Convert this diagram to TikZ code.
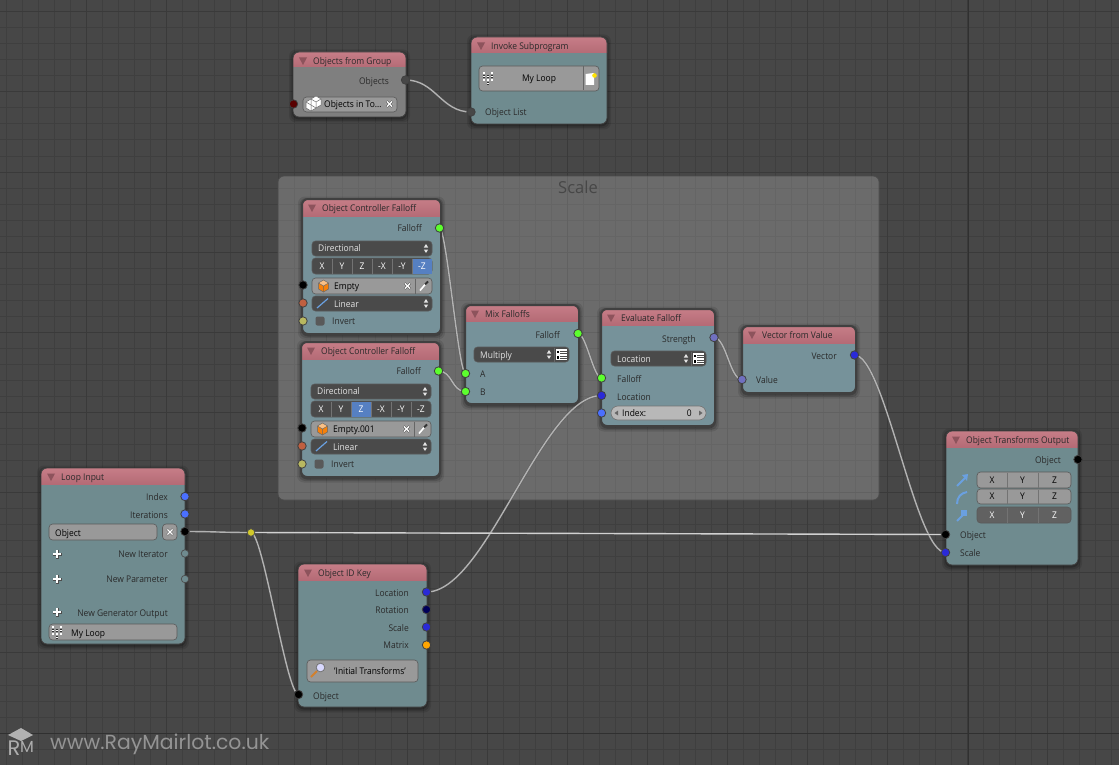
\documentclass[tikz,border=0pt]{standalone}
\usepackage{fontspec}
\setmainfont[FakeStretch=0.92]{Open Sans}
\newfontfamily\wmfont{Poppins}
\newfontfamily\frfont{Open Sans}
\usetikzlibrary{calc}
\definecolor{bgc}{HTML}{474747}
\definecolor{gridmin}{HTML}{3F3F3F}
\definecolor{gridmaj}{HTML}{3A3A3A}
\definecolor{gridaxis}{HTML}{303030}
\definecolor{hdrtop}{HTML}{C67D87}
\definecolor{hdrbot}{HTML}{B56B76}
\definecolor{bodyc}{HTML}{6F8B8F}
\definecolor{bodyb}{HTML}{76929A}
\definecolor{greyb}{HTML}{7F7F7F}
\definecolor{txt}{HTML}{2A2A2A}
\definecolor{lite}{HTML}{E2E2E2}
\definecolor{fieldc}{HTML}{999999}
\definecolor{darkf}{HTML}{4A4A4A}
\definecolor{activec}{HTML}{5680C2}
\definecolor{sgreen}{HTML}{5CFF2E}
\definecolor{sblue}{HTML}{2A2AD8}
\definecolor{slite}{HTML}{4A70FF}
\definecolor{spurp}{HTML}{7070C0}
\definecolor{srust}{HTML}{C06040}
\definecolor{solive}{HTML}{B8B860}
\definecolor{iconb}{HTML}{6AA0E0}
\pgfdeclarelayer{bg}
\pgfdeclarelayer{links}
\pgfsetlayers{bg,links,main}
\newcounter{tn}
\tikzset{
  lab/.style={inner sep=0pt,font=\fontsize{9.2}{11}\selectfont},
  sock/.style={circle,minimum size=8.4pt,inner sep=0pt,draw=#1,line width=.8pt},
  sock/.default=black!75,
  linkline/.style={draw=#1,line width=1.4pt},
  linkline/.default={black!30},
  fieldbox/.style={draw=black!65,line width=.6pt,rounded corners=3.5pt},
}
\newcommand{\labL}[4][txt]{\stepcounter{tn}\node[lab,anchor=base west,text=#1] (t\thetn) at ({#2},{#3+3.2}) {#4};}
\newcommand{\labR}[4][txt]{\stepcounter{tn}\node[lab,anchor=base east,text=#1] (t\thetn) at ({#2},{#3+3.2}) {#4};}
\newcommand{\labC}[4][txt]{\stepcounter{tn}\node[lab,anchor=base,text=#1] (t\thetn) at ({#2},{#3+3.2}) {#4};}
\newcommand{\sk}[4]{\node[sock,fill=#4] (#1) at (#2,#3) {};}
\newcommand{\fld}[5]{\path[fieldbox,fill=#5] (#1,#2) rectangle (#3,#4);}
% panel: x1 y1 x2 y2 headerbottom title body outlinewidth
\newcommand{\panel}[8]{%
  \begin{pgfonlayer}{bg}
  \foreach \e/\o in {4/.10,2.5/.14,1/.20}{
    \fill[black,opacity=\o,rounded corners=7pt] ({#1-\e},{#2-\e+1.5}) rectangle ({#3+\e},{#4+\e+1.5});}
  \end{pgfonlayer}
  \fill[#7,rounded corners=6pt] (#1,#2) rectangle (#3,#4);
  \begin{scope}
    \clip[rounded corners=6pt] (#1,#2) rectangle (#3,#4);
    \shade[top color=hdrtop,bottom color=hdrbot] (#1,#2) rectangle (#3,#5);
  \end{scope}
  \draw[black!75,line width=#8,rounded corners=6pt] (#1,#2) rectangle (#3,#4);
  \fill[black!22!hdrbot] ({#1+6},{#2+5.5}) -- ({#1+14},{#2+5.5}) -- ({#1+10},{#2+13}) -- cycle;
  \labL{#1+20}{#2+9.5}{#6}%
}
\newcommand{\updown}[2]{%
  \fill[lite] ({#1-2.2},{#2-1}) -- ({#1+2.2},{#2-1}) -- (#1,{#2-4.5}) -- cycle;
  \fill[lite] ({#1-2.2},{#2+1}) -- ({#1+2.2},{#2+1}) -- (#1,{#2+4.5}) -- cycle;}
\newcommand{\listic}[2]{%
  \fill[white] ({#1-5.5},{#2-5.5}) rectangle ({#1+5.5},{#2+5.5});
  \fill[black] ({#1-5},{#2-4}) rectangle ({#1-3},{#2-2});
  \fill[black] ({#1-5},{#2+1}) rectangle ({#1-3},{#2+4});
  \foreach \d in {-3.5,-1,1.5,4}{\draw[black!70,line width=.6pt] ({#1-1.5},{#2+\d}) -- ({#1+5},{#2+\d});}}
\newcommand{\xic}[2]{%
  \fill[black!38] (#1,#2) circle (4.6pt);
  \draw[black!65,line width=2.4pt] ({#1-2.8},{#2-2.8}) -- ({#1+2.8},{#2+2.8}) ({#1-2.8},{#2+2.8}) -- ({#1+2.8},{#2-2.8});
  \draw[white,line width=1.3pt] ({#1-2.6},{#2-2.6}) -- ({#1+2.6},{#2+2.6}) ({#1-2.6},{#2+2.6}) -- ({#1+2.6},{#2-2.6});}
\newcommand{\plusic}[2]{%
  \draw[black!70,line width=3pt] ({#1-4.5},#2) -- ({#1+4.5},#2) (#1,{#2-4.5}) -- (#1,{#2+4.5});
  \draw[white,line width=1.7pt] ({#1-4},#2) -- ({#1+4},#2) (#1,{#2-4}) -- (#1,{#2+4});}
\newcommand{\treeic}[2]{%
  \foreach \a/\b in {-5/-5,-5/-1.5,-5/2,-1/-1.5,-1/2,-1/5.5,3/-5,3/-1.5,3/2}{
    \fill[black!80] ({#1+\a-1.3},{#2+\b-1.3}) rectangle ({#1+\a+1.3},{#2+\b+1.3});
    \fill[white] ({#1+\a-.6},{#2+\b-.6}) rectangle ({#1+\a+.6},{#2+\b+.6});}}
\newcommand{\cubeic}[3]{%
  \fill[#3] ({#1-5},{#2-3}) -- (#1,{#2-6}) -- ({#1+5},{#2-3}) -- ({#1+5},{#2+3}) -- (#1,{#2+6}) -- ({#1-5},{#2+3}) -- cycle;
  \fill[white,opacity=.5] ({#1-5},{#2-3}) -- (#1,{#2-6}) -- ({#1+5},{#2-3}) -- (#1,#2) -- cycle;
  \draw[black!60,line width=.5pt] ({#1-5},{#2-3}) -- (#1,{#2-6}) -- ({#1+5},{#2-3}) -- ({#1+5},{#2+3}) -- (#1,{#2+6}) -- ({#1-5},{#2+3}) -- cycle;
  \draw[black!60,line width=.5pt] (#1,{#2+6}) -- (#1,#2) -- ({#1-5},{#2-3}) (#1,#2) -- ({#1+5},{#2-3});}
% falloff node: name, x, y (panel origin), active index, object name
\newcommand{\ocfalloff}[5]{%
  \begin{scope}[shift={(#2,#3)}]
  \panel{0}{0}{139}{135}{17}{Object Controller Falloff}{bodyb}{2pt}
  \labR{120}{29.5}{Falloff}
  \sk{#1f}{137.5}{29}{sgreen}
  \fld{10}{42}{130}{57}{darkf}
  \labL[lite]{16}{49.5}{Directional}
  \updown{124}{49.5}
  \fld{10}{59}{130}{75}{darkf}
  \foreach \n/\t in {0/X,1/Y,2/Z,3/-X,4/-Y,5/-Z}{
    \ifnum\n=#4\relax
      \fill[activec] ({10.5+20*\n},59.5) rectangle ({10+20*(\n+1)-.5},74.5);
    \fi
    \ifnum\n>0 \draw[black!55,line width=.5pt] ({10+20*\n},59.5) -- ({10+20*\n},74.5);\fi
    \labC[white]{20+20*\n}{67}{\t}
  }
  \fld{10}{79}{130}{95}{fieldc}
  \draw[black!60,line width=.5pt] (113.5,79.5) -- (113.5,94.5);
  \cubeic{21.5}{87}{orange!85!brown}
  \labL[black]{32}{87.5}{#5}
  \xic{105.5}{87}
  \draw[white,line width=1.6pt] (118,91.5) -- (124,84.5);
  \draw[black!80,line width=1.8pt] (123,85.5) -- (126,82.5);
  \fld{10}{97}{130}{112}{darkf}
  \draw[iconb,line width=1.2pt] (15,109) -- (26,99.5);
  \labL[lite]{32}{105}{Linear}
  \updown{124}{104.5}
  \fill[black!65,rounded corners=2pt] (13.5,117.5) rectangle (22.5,126.5);
  \labL{30}{122.5}{Invert}
  \sk{#1a}{1}{86}{black}
  \sk{#1b}{1}{104}{srust}
  \sk{#1c}{1}{122}{solive}
  \end{scope}%
}
\begin{document}
\begin{tikzpicture}[x=1pt,y=-1pt]
\useasboundingbox (0,0) rectangle (1119,765);
\begin{pgfonlayer}{bg}
\fill[bgc] (0,0) rectangle (1119,765);
\foreach \i in {0,...,69}{\draw[gridmin,line width=.9pt] ({6.5+16.02*\i},0) -- ({6.5+16.02*\i},765);}
\foreach \j in {0,...,47}{\draw[gridmin,line width=.9pt] (0,{11.7+16.03*\j}) -- (1119,{11.7+16.03*\j});}
\foreach \i in {1,...,13}{\draw[gridmaj,line width=1pt] ({6.5+80.1*\i},0) -- ({6.5+80.1*\i},765);}
\foreach \j in {0,...,9}{\draw[gridmaj,line width=1pt] (0,{11.7+80.15*\j}) -- (1119,{11.7+80.15*\j});}
\draw[gridaxis,line width=1pt] (968,0) -- (968,765);
\draw[gridaxis,line width=1pt] (0,733) -- (1119,733);
% frame
\fill[white,opacity=.2,rounded corners=6pt] (278,176) rectangle (879,500);
\draw[black!70,line width=.7pt,rounded corners=6pt] (278,176) rectangle (879,500);
\end{pgfonlayer}
\node[inner sep=0pt,font=\frfont\fontsize{16.5}{18}\selectfont,text=black!72] (frametitle) at (578,187.5) {Scale};

% Objects from Group
\panel{293}{52}{406}{117}{67}{Objects from Group}{greyb}{.8pt}
\labR{389}{81}{Objects}
\sk{objs}{405.5}{80}{black!72}
\sk{objsin}{293.5}{104}{red!35!black}
\fld{303}{97}{397}{112}{fieldc}
\cubeic{311}{105}{white}
\cubeic{316}{102}{white}
\labL[black]{324}{104.5}{Objects in To…}
\xic{389.5}{104}

% Invoke Subprogram
\panel{471}{37}{607}{124}{53}{Invoke Subprogram}{bodyc}{.8pt}
\fld{479}{66}{599}{91}{fieldc}
\draw[black!60,line width=.6pt] (583,66.5) -- (583,90.5);
\treeic{489}{78}
\labC[black]{539}{78.5}{My Loop}
\fill[white] (585.5,74) -- (594,73) -- (594,85) -- (585.5,85) -- cycle;
\fill[yellow!85!orange] (594.5,75.5) circle (2.3pt);
\labL{485}{112.5}{Object List}
\sk{olist}{471}{112}{black!72}

% Falloffs
\ocfalloff{ocA}{302}{199}{5}{Empty}
\ocfalloff{ocB}{301}{342}{2}{Empty.001}

% Mix Falloffs
\panel{465}{305}{579}{404}{321}{Mix Falloffs}{bodyb}{2pt}
\labR{560}{335}{Falloff}
\sk{mixf}{578}{333.5}{sgreen}
\fld{474}{347}{569}{362}{darkf}
\labL[lite]{480}{355}{Multiply}
\updown{549}{354.5}
\draw[black!60,line width=.5pt] (554,347.5) -- (554,361.5);
\listic{561.5}{354.5}
\labL{480}{374.5}{A}
\labL{480}{392.5}{B}
\sk{mixa}{465.5}{373.5}{sgreen}
\sk{mixb}{465.5}{391.5}{sgreen}

% Evaluate Falloff
\panel{601}{309}{715}{426}{325}{Evaluate Falloff}{bodyb}{2pt}
\labR{696}{339}{Strength}
\sk{evs}{714}{337.5}{spurp}
\fld{611}{351}{706}{366}{darkf}
\labL[lite]{617}{359}{Location}
\updown{686}{358.5}
\draw[black!60,line width=.5pt] (691,351.5) -- (691,365.5);
\listic{698.5}{358.5}
\labL{617}{379}{Falloff}
\labL{617}{397}{Location}
\sk{evf}{601.5}{378}{sgreen}
\sk{evl}{601.5}{395.5}{sblue}
\sk{evi}{601.5}{413}{slite}
\path[draw=black!55,line width=.6pt,fill=black!28,rounded corners=7pt] (611,406) rectangle (706,420);
\fill[black!60] (614.5,413) -- (618,410.5) -- (618,415.5) -- cycle;
\fill[black!60] (702.5,413) -- (699,410.5) -- (699,415.5) -- cycle;
\labL[black]{622}{413}{Index:}
\labR[black]{692}{413}{0}

% Vector from Value
\panel{742}{326}{856}{393}{343}{Vector from Value}{bodyb}{2pt}
\labR{837}{356}{Vector}
\sk{vecv}{854.5}{355}{sblue}
\labL{756}{380}{Value}
\sk{veci}{742}{379.5}{spurp}

% Output
\panel{946}{431}{1078}{565}{447}{Object Transforms Output}{bodyc}{.8pt}
\labR{1061}{460.5}{Object}
\sk{outo}{1078}{459.5}{black}
\foreach \ya/\yb/\fc/\tc in {472/488/fieldc/black,489/504/fieldc/black,507/523/black!62/white}{
  \fld{977}{\ya}{1071}{\yb}{\fc}
  \draw[black!55,line width=.5pt] (1007,\ya+.5) -- (1007,\yb-.5) (1038,\ya+.5) -- (1038,\yb-.5);
  \labC[\tc]{992}{(\ya+\yb)/2}{X}
  \labC[\tc]{1022.5}{(\ya+\yb)/2}{Y}
  \labC[\tc]{1054.5}{(\ya+\yb)/2}{Z}
}
\draw[iconb,line width=2pt] (957,486) -- (965,478);
\fill[iconb] (962,475) -- (968,474) -- (967,481) -- cycle;
\draw[iconb,line width=2pt] (957,504) .. controls (957,497) and (961,493) .. (967,492);
\draw[iconb,line width=2pt] (957,521) -- (963,515);
\fill[iconb] (961,510) rectangle (967,516);
\labL{960}{535}{Object}
\labL{960}{553}{Scale}
\sk{outobj}{945.5}{534.5}{black}
\sk{outs}{945.5}{552.5}{sblue}

% Loop Input
\panel{41}{468}{185}{644}{484}{Loop Input}{bodyc}{.8pt}
\labR{168}{497.5}{Index}
\labR{168}{515}{Iterations}
\sk{lpi}{185}{496.5}{slite}
\sk{lpit}{185}{514}{slite}
\fld{49}{524}{157}{540}{fieldc}
\labL[black]{55}{533}{Object}
\fld{162.5}{524}{177}{540}{fieldc}
\xic{170}{532}
\sk{lpo}{185}{531.5}{black}
\plusic{57}{554}
\labR{168}{554.5}{New Iterator}
\node[sock=black!70,line width=.7pt,fill=bodyc,minimum size=7.5pt] (lpn1) at (185,553.5) {};
\plusic{57}{579}
\labR{168}{579.5}{New Parameter}
\node[sock=black!70,line width=.7pt,fill=bodyc,minimum size=7.5pt] (lpn2) at (185,579) {};
\plusic{57}{612}
\labR{168}{613}{New Generator Output}
\fld{49}{624}{177}{640}{fieldc}
\treeic{58}{632}
\labL[black]{71}{633}{My Loop}

% Object ID Key
\panel{298}{564}{427}{707}{580}{Object ID Key}{bodyc}{.8pt}
\labR{409}{593}{Location}
\labR{409}{610.5}{Rotation}
\labR{409}{628}{Scale}
\labR{409}{645.5}{Matrix}
\sk{idl}{426.5}{592}{sblue}
\sk{idr}{426.5}{609.5}{blue!35!black}
\sk{ids}{426.5}{627}{sblue}
\sk{idm}{426.5}{645}{orange!70!yellow}
\fld{307}{660}{418}{682}{fieldc}
\draw[brown!70!orange,line width=1.8pt] (311,677) -- (317,671);
\fill[white!85!blue,draw=black!55,line width=.8pt] (320.5,667.5) circle (4.3pt);
\labC[black]{370}{671}{'Initial Transforms'}
\labL{313}{696}{Object}
\sk{idobj}{298.5}{694.5}{black}

% reroute
\node[circle,minimum size=7.5pt,inner sep=0pt,draw=black!70,line width=.7pt,fill=yellow!80!black] (rr) at (251,532.5) {};

% links
\begin{pgfonlayer}{links}
\foreach \pa/\pb/\dx in {objs/olist/30,ocAf/mixa/7,ocBf/mixb/14,mixf/evf/8,idl/evl/60,evs/veci/12,vecv/outs/30,lpo/rr/30,rr/idobj/12}{
  \draw[linkline,draw=black!70,line width=2.4pt,opacity=.35] (\pa.center) .. controls +(\dx,0) and +(-\dx,0) .. (\pb.center);
  \draw[linkline] (\pa.center) .. controls +(\dx,0) and +(-\dx,0) .. (\pb.center);
}
\draw[linkline,draw=black!70,line width=2.4pt,opacity=.35] (rr.center) -- (outobj.center);
\draw[linkline,draw=black!18] (rr.center) -- (outobj.center);
\end{pgfonlayer}

% watermark
\fill[black!30] (21,728) -- (33,735) -- (21,741) -- (8,735) -- cycle;
\node[inner sep=0pt,font=\wmfont\fontsize{21}{22}\selectfont,text=black!32] (wmr) at (14,748) {R};
\node[inner sep=0pt,font=\wmfont\fontsize{16}{18}\selectfont,text=black!32] (wmm) at (27,746.5) {M};
\node[inner sep=0pt,anchor=base west,font=\wmfont\fontsize{20.4}{22}\selectfont,text=black!42] (wm) at (50,749) {www.RayMairlot.co.uk};
\end{tikzpicture}
\end{document}
